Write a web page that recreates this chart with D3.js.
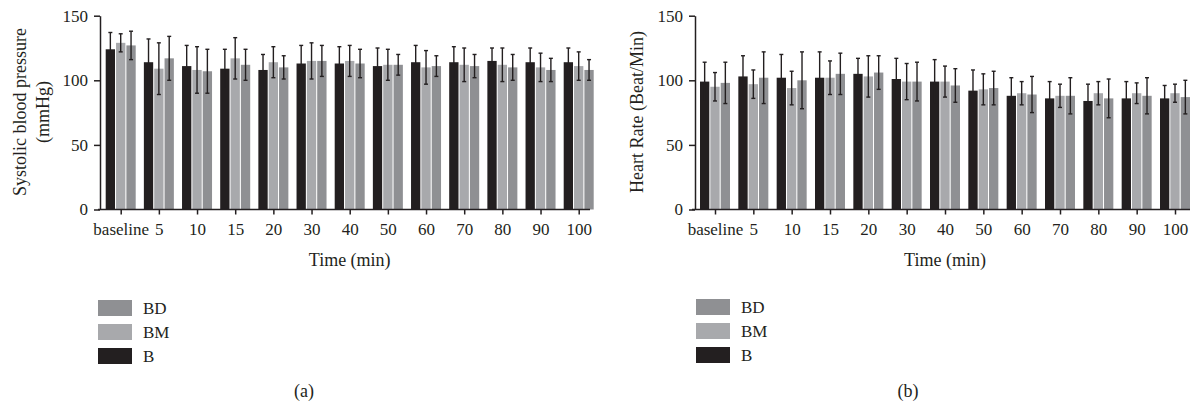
<!DOCTYPE html>
<html>
<head>
<meta charset="utf-8">
<script src="https://cdn.jsdelivr.net/npm/d3@7"></script>
<style>
  body { margin: 0; background: #fff; }
  svg text { font-family: "Liberation Serif", "DejaVu Serif", serif; fill: #231f20; }
</style>
</head>
<body>
<div id="visualization"></div>
<script>
// time points
var categories = ['baseline', '5', '10', '15', '20', '30', '40', '50', '60', '70', '80', '90', '100'];
var series = ['B', 'BM', 'BD'];
var legendOrder = ['BD', 'BM', 'B'];
var yTicks = [0, 50, 100, 150];

// systolic blood pressure (mmHg), mean and sd
var sbpB = [124, 114, 111, 109, 108, 113, 113, 111, 114, 114, 115, 114, 114];
var sbpBM = [129, 109, 108, 117, 114, 115, 115, 112, 110, 112, 112, 110, 111];
var sbpBD = [127, 117, 107, 112, 110, 115, 113, 112, 111, 111, 110, 108, 108];
var sbpErrB = [13, 18, 16, 15, 12, 14, 13, 14, 13, 12, 10, 11, 11];
var sbpErrBM = [7, 20, 18, 16, 12, 14, 12, 12, 13, 13, 13, 11, 11];
var sbpErrBD = [11, 17, 17, 12, 9, 12, 11, 8, 8, 9, 10, 9, 8];

// heart rate (beat/min), mean and sd
var hrB = [99, 103, 102, 102, 105, 101, 99, 92, 88, 86, 84, 86, 86];
var hrBM = [95, 97, 94, 102, 103, 99, 99, 93, 90, 88, 90, 90, 90];
var hrBD = [98, 102, 100, 105, 106, 99, 96, 94, 89, 88, 86, 88, 87];
var hrErrB = [15, 16, 18, 20, 12, 16, 17, 16, 14, 13, 13, 13, 10];
var hrErrBM = [11, 11, 13, 13, 16, 14, 12, 12, 9, 9, 9, 8, 7];
var hrErrBD = [16, 20, 22, 16, 13, 15, 13, 13, 14, 14, 15, 14, 13];

var color = d3.scaleOrdinal()
    .domain(series)
    .range(['#231f20', '#a8a9ac', '#8f9093']);

var svg = d3.select('#visualization')
    .append('svg')
    .attr('width', 1191)
    .attr('height', 406);

function drawPanel(opt) {
    var g = svg.append('g');

    var y = d3.scaleLinear()
        .domain([0, 150])
        .range([209.5, 15.7]);

    var x = d3.scalePoint()
        .domain(categories)
        .range([opt.x0, opt.x1]);

    var xs = d3.scaleBand()
        .domain(series)
        .range([-15, 15])
        .paddingInner(0.1);

    var rows = [];
    categories.forEach(function(c, i) {
        series.forEach(function(s) {
            rows.push({cat: c, s: s, v: opt.values[s][i], e: opt.errors[s][i]});
        });
    });

    g.append('g')
        .selectAll('rect')
        .data(rows)
        .join('rect')
        .attr('x', d => x(d.cat) + xs(d.s))
        .attr('width', xs.bandwidth())
        .attr('y', d => y(d.v))
        .attr('height', d => y(0) - y(d.v))
        .attr('fill', d => color(d.s));

    var err = g.append('g')
        .attr('stroke', '#231f20')
        .attr('stroke-width', 1.4)
        .selectAll('g')
        .data(rows)
        .join('g')
        .attr('transform', d => 'translate(' + (x(d.cat) + xs(d.s) + xs.bandwidth() / 2) + ',0)');

    err.append('line')
        .attr('y1', d => y(d.v + d.e))
        .attr('y2', d => y(d.v - d.e));
    err.append('line')
        .attr('x1', -2)
        .attr('x2', 2)
        .attr('y1', d => y(d.v + d.e))
        .attr('y2', d => y(d.v + d.e));
    err.append('line')
        .attr('x1', -2)
        .attr('x2', 2)
        .attr('y1', d => y(d.v - d.e))
        .attr('y2', d => y(d.v - d.e))
        .style('display', d => d.s === 'B' ? 'none' : null);

    // y axis
    var yAxis = g.append('g')
        .attr('transform', 'translate(' + opt.yAxisX + ',0)')
        .call(d3.axisLeft(y).tickValues(yTicks).tickSize(6).tickSizeOuter(0).tickPadding(6));
    yAxis.selectAll('text').style('font-size', '17px');

    // x axis
    var xAxis = g.append('g')
        .attr('transform', 'translate(0,' + y(0) + ')')
        .call(d3.axisBottom(x).tickSize(5).tickSizeOuter(0).tickPadding(6));
    xAxis.select('.domain').attr('d', 'M' + opt.axisStart + ',0H' + opt.axisEnd);
    xAxis.selectAll('text').style('font-size', '17px').attr('dy', '0.85em');

    svg.selectAll('.domain, .tick line')
        .attr('stroke', '#231f20')
        .attr('stroke-width', 1.5);

    // axis titles
    var yt = g.append('text')
        .attr('transform', 'translate(' + opt.yTitleX + ',112) rotate(-90)')
        .attr('text-anchor', 'middle')
        .style('font-size', '18px');
    opt.yTitle.forEach(function(t, i) {
        yt.append('tspan')
            .attr('x', 0)
            .attr('dy', i === 0 ? 0 : '1.25em')
            .text(t);
    });

    g.append('text')
        .attr('x', (opt.x0 + opt.x1) / 2)
        .attr('y', 266)
        .attr('text-anchor', 'middle')
        .style('font-size', '18px')
        .text('Time (min)');

    // legend
    var leg = g.append('g')
        .selectAll('g')
        .data(legendOrder)
        .join('g')
        .attr('transform', (d, i) => 'translate(' + opt.legendX + ',' + (opt.legendY + i * 24) + ')');
    leg.append('rect')
        .attr('width', 34)
        .attr('height', 16)
        .attr('fill', d => color(d));
    leg.append('text')
        .attr('x', 45)
        .attr('y', 8)
        .attr('dy', '0.35em')
        .style('font-size', '17px')
        .text(d => d);

    g.append('text')
        .attr('x', opt.labelX)
        .attr('y', 397)
        .attr('text-anchor', 'middle')
        .style('font-size', '18px')
        .text(opt.label);
}

drawPanel({
    x0: 120.7, x1: 578.7,
    yAxisX: 100, axisStart: 98, axisEnd: 590,
    yTitle: ['Systolic blood pressure', '(mmHg)'],
    yTitleX: 26,
    values: {B: sbpB, BM: sbpBM, BD: sbpBD},
    errors: {B: sbpErrB, BM: sbpErrBM, BD: sbpErrBD},
    legendX: 98, legendY: 300,
    labelX: 304, label: '(a)'
});

drawPanel({
    x0: 715, x1: 1175,
    yAxisX: 695, axisStart: 692, axisEnd: 1190,
    yTitle: ['Heart Rate (Beat/Min)'],
    yTitleX: 643,
    values: {B: hrB, BM: hrBM, BD: hrBD},
    errors: {B: hrErrB, BM: hrErrBM, BD: hrErrBD},
    legendX: 696, legendY: 299,
    labelX: 908, label: '(b)'
});
</script>
</body>
</html>
